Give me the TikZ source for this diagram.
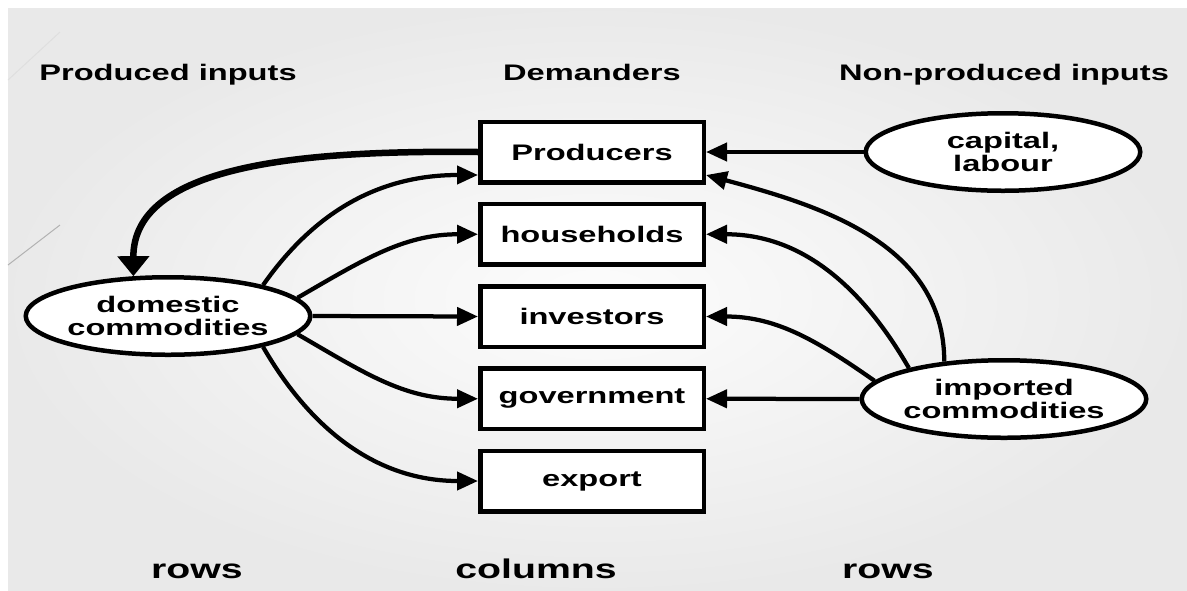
\documentclass[tikz,border=0pt]{standalone}
\usepackage{fontspec}
\newfontfamily\slidefont{Liberation Sans}[FakeStretch=1.45]
\usetikzlibrary{positioning}
\usetikzlibrary{calc}
\usetikzlibrary{arrows.meta}
\usetikzlibrary{shapes.geometric}

\begin{document}
\begin{tikzpicture}[
  every node/.append style={font=\slidefont\bfseries\fontsize{12.8}{13.1}\selectfont},
  demander/.style={draw, line width=0.09cm, fill=white, minimum width=4.47cm, minimum height=1.21cm, inner sep=0pt},
  supply/.style={draw, ellipse, line width=0.09cm, fill=white, minimum width=5.49cm, minimum height=1.55cm, inner sep=0pt, align=center},
  flow/.style={line width=0.085cm, -{Triangle[length=0.42cm,width=0.36cm]}},
  heading/.style={anchor=base},
  bottomlabel/.style={anchor=base, font=\slidefont\bfseries\fontsize{15.4}{16}\selectfont}
]
\useasboundingbox (0,0) rectangle (23.74,-11.8);
\shade[inner color=gray!2, outer color=gray!17] (0.16,-0.16) rectangle (23.74,-11.8);
\draw[gray!60, line width=0.02cm] (0.16,-5.3) -- (1.2,-4.5);
\draw[gray!25, line width=0.02cm] (0.16,-1.6) -- (1.2,-0.64);

\node[heading] (prodin) at (3.36,-1.6) {Produced inputs};
\node[heading] (dem) at (11.84,-1.6) {Demanders};
\node[heading] (nonprod) at (20.08,-1.6) {Non-produced inputs};

\node[demander] (prod) at (11.84,-3.04) {Producers};
\node[demander, below=0.345cm of prod] (hh) {households};
\node[demander, below=0.345cm of hh] (inv) {investors};
\node[demander, below=0.345cm of inv] (gov) {government};
\node[demander, below=0.345cm of gov] (exp) {export};

\node[supply] (dom) at (3.36,-6.32) {domestic\\commodities};
\node[supply] (cap) at (20.06,-3.04) {capital,\\labour};
\node[supply] (imp) at (20.08,-7.98) {imported\\commodities};

\draw[line width=0.13cm, -{Triangle[length=0.4cm,width=0.62cm]}] (prod.west) .. controls (6,-3.0) and (2.66,-3.3) .. (dom.131);
\draw[flow] (dom.18) to[out=55, in=180] ([yshift=-0.46cm]prod.west);
\draw[flow] (dom.8) to[out=30, in=180] (hh.west);
\draw[flow] (dom.east) -- (inv.west);
\draw[flow] (dom.-8) to[out=-30, in=180] (gov.west);
\draw[flow] (dom.-18) to[out=-60, in=180] (exp.west);

\draw[flow] (cap.west) -- (prod.east);
\draw[flow] (imp.148) to[out=90, in=-15] ([yshift=-0.46cm]prod.east);
\draw[flow] (imp.162) to[out=120, in=0] (hh.east);
\draw[flow] (imp.172) to[out=145, in=0] (inv.east);
\draw[flow] (imp.west) -- (gov.east);

\node[bottomlabel] (rowsl) at (3.94,-11.56) {rows};
\node[bottomlabel] (cols) at (10.72,-11.56) {columns};
\node[bottomlabel] (rowsr) at (17.76,-11.56) {rows};
\end{tikzpicture}
\end{document}
